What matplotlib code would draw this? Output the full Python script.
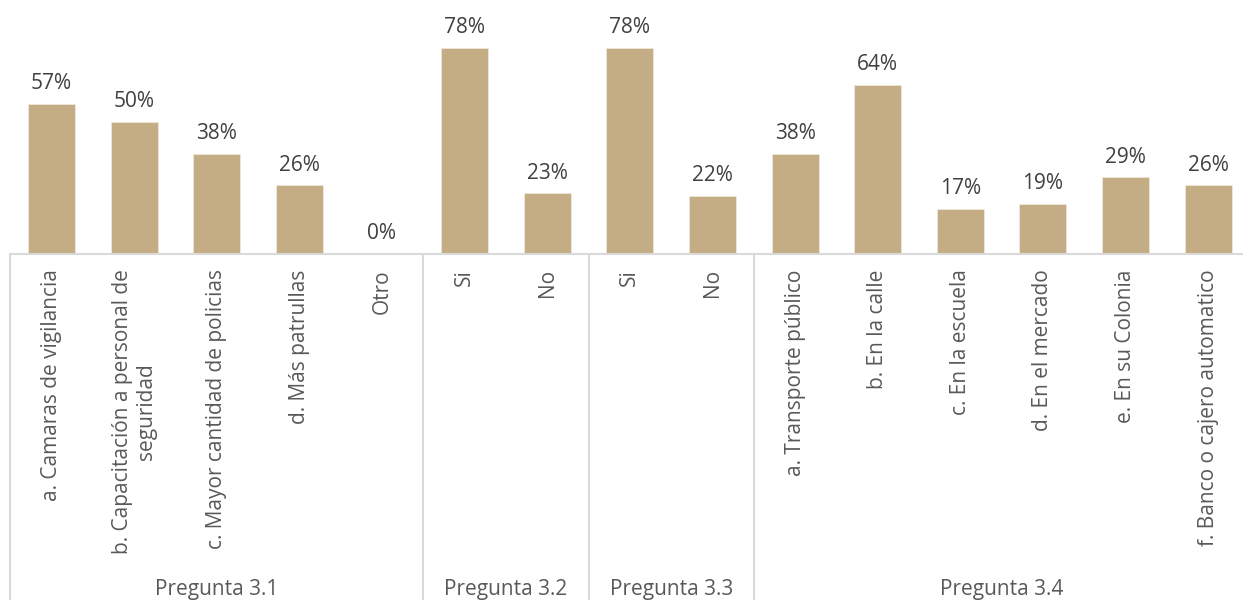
import matplotlib
matplotlib.use("Agg")
import matplotlib.pyplot as plt

plt.rcParams['font.family'] = ['Open Sans', 'DejaVu Sans']

# data
categories = [
    "a. Camaras de vigilancia",
    "b. Capacitación a personal de\nseguridad",
    "c. Mayor cantidad de policias",
    "d. Más patrullas",
    "Otro",
    "Si",
    "No",
    "Si",
    "No",
    "a. Transporte público",
    "b. En la calle",
    "c. En la escuela",
    "d. En el mercado",
    "e. En su Colonia",
    "f. Banco o cajero automatico",
]
values = [57, 50, 38, 26, 0, 78, 23, 78, 22, 38, 64, 17, 19, 29, 26]
group_names = ["Pregunta 3.1", "Pregunta 3.2", "Pregunta 3.3", "Pregunta 3.4"]
group_sizes = [5, 2, 2, 6]

bar_color = "#C4AC84"
grid_color = "#D9D9D9"
fs = 15

fig = plt.figure(figsize=(12.43, 6), dpi=100)
# axes placed in figure pixels: baseline at y=254 px, left edge at x=10 px
ax = fig.add_axes([10.2 / 1243, (600 - 254) / 600, 1239.3 / 1243, 254 / 600])

x = list(range(len(values)))
bars = ax.bar(x, values, width=0.57, color=bar_color, edgecolor="#EFE8DA", linewidth=0.6)
ax.bar_label(bars, labels=[f"{v}%" for v in values], padding=7,
             fontsize=fs, color="#404040")

ax.set_xlim(-0.5, len(values) - 0.5)
ax.set_ylim(0, 96.2)
ax.set_yticks([])
for s in ["top", "right", "left"]:
    ax.spines[s].set_visible(False)
ax.spines["bottom"].set_color(grid_color)
ax.spines["bottom"].set_linewidth(1.5)

ax.set_xticks(x)
ax.set_xticklabels(categories, rotation=90, fontsize=fs, color="#595959",
                   va="top", ha="center", multialignment="center",
                   linespacing=1.2)
ax.tick_params(axis="x", length=0, pad=11)

# group separators and group labels below the axis
trans = ax.get_xaxis_transform()
bottom_y = -346 / 254
start = 0
edges = [-0.5]
for name, size in zip(group_names, group_sizes):
    end = start + size
    edges.append(end - 0.5)
    center = (start + end - 1) / 2
    ax.text(center, -336 / 254, name, transform=trans, ha="center", va="center",
            fontsize=fs, color="#595959", clip_on=False)
    start = end
for e in edges:
    ax.plot([e, e], [0, bottom_y], transform=trans, color=grid_color,
            linewidth=1.5, clip_on=False)

fig.savefig("out.png", dpi=100)
